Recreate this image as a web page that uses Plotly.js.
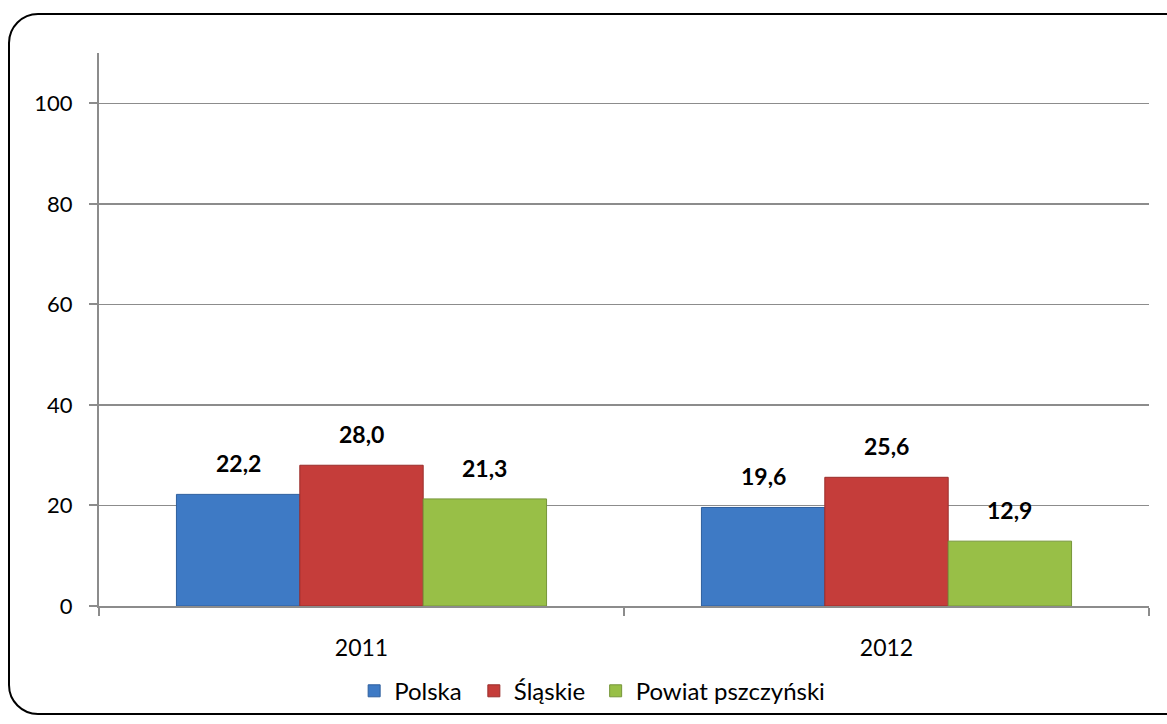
<!DOCTYPE html>
<html>
<head>
<meta charset="utf-8">
<script src="https://cdn.plot.ly/plotly-3.0.1.min.js"></script>
<style>
  html, body { margin: 0; padding: 0; background: #ffffff; overflow: hidden; }
  #wrap { position: relative; width: 1167px; height: 724px; }
  #frame { position: absolute; left: 8px; top: 13px; width: 1200px; height: 702px;
           border: 2px solid #000; border-radius: 30px; box-sizing: border-box; }
  #chart { position: absolute; left: 0; top: 0; width: 1167px; height: 724px; }
</style>
</head>
<body>
<div id="wrap">
  <div id="frame"></div>
  <div id="chart"></div>
</div>
<script>
const categories = ['2011', '2012'];
const seriesNames = ['Polska', 'Śląskie', 'Powiat pszczyński'];
const polska = [22.2, 19.6];
const slaskie = [28.0, 25.6];
const powiat = [21.3, 12.9];
const yTicks = [0, 20, 40, 60, 80, 100];

const colors = ['#3E7AC5', '#C53D3A', '#98BF47'];
const lineColors = ['#2E5F9E', '#9A2E2B', '#76963A'];
const values = [polska, slaskie, powiat];

const font = 'Lato, Open Sans, sans-serif';
const bargap = 0.295;
const barW = (1 - bargap) / values.length;
const legendIds = ['legend', 'legend2', 'legend3'];
const legendX = [0.243, 0.357, 0.473];

const traces = values.map((v, i) => ({
  type: 'bar',
  name: seriesNames[i],
  x: categories,
  y: v,
  legend: legendIds[i],
  marker: { color: colors[i], line: { color: lineColors[i], width: 1 } },
  hoverinfo: 'skip'
}));

const annotations = [];
values.forEach((v, i) => {
  v.forEach((val, c) => {
    annotations.push({
      xref: 'x', yref: 'y',
      x: c + (i - (values.length - 1) / 2) * barW,
      y: val,
      text: val.toFixed(1).replace('.', ','),
      showarrow: false,
      xanchor: 'center', yanchor: 'bottom',
      yshift: 15,
      font: { family: font, size: 23, color: '#000', weight: 'bold' }
    });
  });
});

const layout = {
  width: 1167,
  height: 724,
  margin: { l: 99, r: 18, t: 53, b: 117 },
  paper_bgcolor: 'rgba(0,0,0,0)',
  plot_bgcolor: 'rgba(0,0,0,0)',
  separators: ', ',
  barmode: 'group',
  bargap: bargap,
  bargroupgap: 0,
  font: { family: font, size: 23, color: '#000' },
  showlegend: true,
  annotations: annotations,
  xaxis: {
    type: 'category',
    showline: true,
    linecolor: '#8c8c8c',
    linewidth: 2,
    ticks: 'outside',
    tickson: 'boundaries',
    ticklen: 8,
    tickcolor: '#8c8c8c',
    tickwidth: 2,
    ticklabelstandoff: 20,
    showgrid: false,
    zeroline: false,
    tickfont: { family: font, size: 23, color: '#000' }
  },
  yaxis: {
    range: [0, 110],
    tickvals: yTicks,
    ticktext: yTicks.map(String),
    showline: true,
    linecolor: '#8c8c8c',
    linewidth: 2,
    ticks: 'outside',
    ticklen: 8,
    tickcolor: '#8c8c8c',
    tickwidth: 2,
    ticklabelstandoff: 12,
    showgrid: true,
    gridcolor: '#8c8c8c',
    gridwidth: 1.5,
    zeroline: false,
    tickfont: { family: font, size: 22, color: '#000' }
  }
};

legendIds.forEach((id, i) => {
  layout[id] = {
    orientation: 'h',
    x: legendX[i], xanchor: 'left',
    y: -0.152, yanchor: 'middle',
    bgcolor: 'rgba(0,0,0,0)',
    font: { family: font, size: 24, color: '#000' },
    itemwidth: 30
  };
});

Plotly.newPlot('chart', traces, layout, { displayModeBar: false, staticPlot: true });
</script>
</body>
</html>
